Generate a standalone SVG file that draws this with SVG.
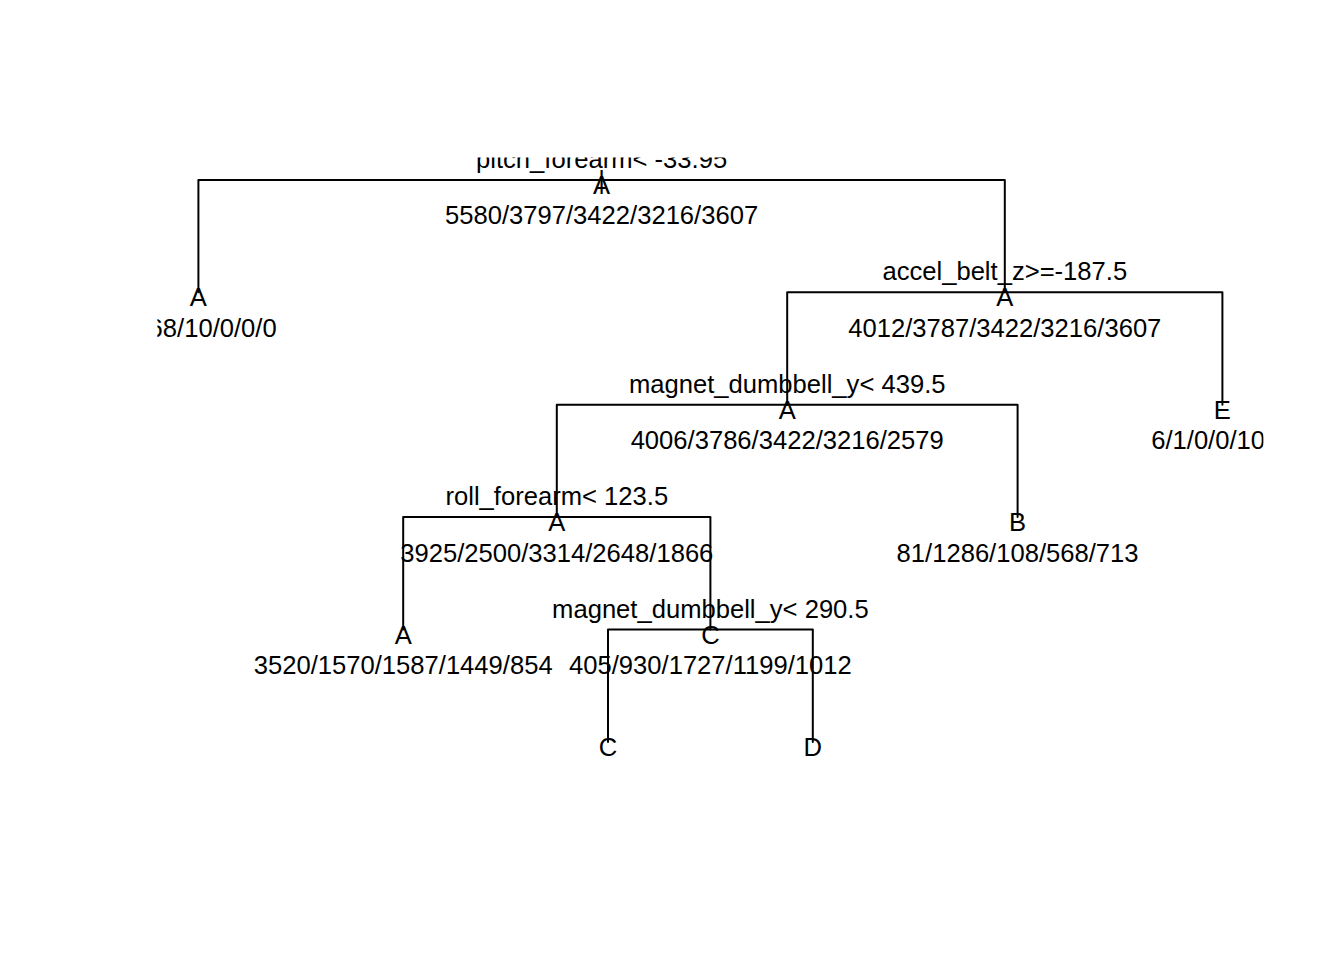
<svg xmlns="http://www.w3.org/2000/svg" width="1344" height="960" viewBox="0 0 1344 960">
<style>
text{font-family:"Liberation Sans",Arial,Helvetica,sans-serif;font-size:25.6px;fill:#000;text-anchor:middle}
text.s{text-anchor:start}
.edge{fill:none;stroke:#000;stroke-width:2;stroke-linecap:round;stroke-linejoin:round}
</style>
<defs>
<clipPath id="plot"><rect x="157.4" y="157.4" width="1106" height="606.8"/></clipPath>
</defs>
<rect width="1344" height="960" fill="#fff"/>
<g clip-path="url(#plot)">
<g id="connectors">
<path class="edge" d="M198.4,292.3V179.9H1004.8V292.3"/>
<path class="edge" d="M787.2,404.7V292.3H1222.4V404.7"/>
<path class="edge" d="M556.8,517.1V404.7H1017.6V517.1"/>
<path class="edge" d="M403.2,629.5V517.1H710.4V629.5"/>
<path class="edge" d="M608,741.9V629.5H812.8V741.9"/>
</g>
<g id="n1">
<text x="601.6" y="189">|</text>
<text x="601.6" y="167.9">pitch_forearm&lt; -33.95</text>
<text x="601.6" y="193.9">A</text>
<text x="601.6" y="224.4">5580/3797/3422/3216/3607</text>
</g>
<g id="n2">
<text x="198.4" y="306.3">A</text>
<text class="s" x="148.6" y="336.8">68/10/0/0/0</text>
</g>
<g id="n3">
<text x="1004.8" y="280.3">accel_belt_z&gt;=-187.5</text>
<text x="1004.8" y="306.3">A</text>
<text x="1004.8" y="336.8">4012/3787/3422/3216/3607</text>
</g>
<g id="n6">
<text x="787.2" y="392.7">magnet_dumbbell_y&lt; 439.5</text>
<text x="787.2" y="418.7">A</text>
<text x="787.2" y="449.2">4006/3786/3422/3216/2579</text>
</g>
<g id="n7">
<text x="1222.4" y="418.7">E</text>
<text class="s" x="1151.2" y="449.2">6/1/0/0/10</text>
</g>
<g id="n12">
<text x="556.8" y="505.1">roll_forearm&lt; 123.5</text>
<text x="556.8" y="531.1">A</text>
<text x="556.8" y="561.6">3925/2500/3314/2648/1866</text>
</g>
<g id="n13">
<text x="1017.6" y="531.1">B</text>
<text x="1017.6" y="561.6">81/1286/108/568/713</text>
</g>
<g id="n24">
<text x="403.2" y="643.5">A</text>
<text x="403.2" y="674">3520/1570/1587/1449/854</text>
</g>
<g id="n25">
<text x="710.4" y="617.5">magnet_dumbbell_y&lt; 290.5</text>
<text x="710.4" y="643.5">C</text>
<text x="710.4" y="674">405/930/1727/1199/1012</text>
</g>
<g id="n50">
<text x="608" y="755.9">C</text>
</g>
<g id="n51">
<text x="812.8" y="755.9">D</text>
</g>
</g>
</svg>
